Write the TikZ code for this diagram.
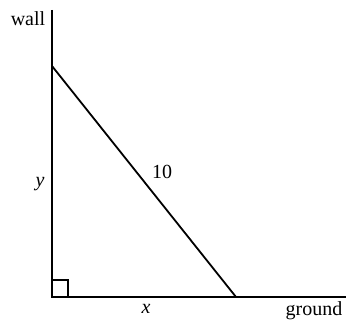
\documentclass[tikz,border=0pt]{standalone}
\usepackage{fontspec}
\setmainfont{Liberation Serif}
\begin{document}
\begin{tikzpicture}[x=1pt,y=-1pt,
  edge/.style={line width=1.8pt},
  lbl/.style={font=\fontsize{20}{23}\selectfont, inner sep=0pt}]
\useasboundingbox (0,0) rectangle (346,320);
\coordinate (walltop) at (52,10);
\coordinate (origin) at (52,297);
\coordinate (groundend) at (346,297);
\coordinate (top) at (52,66);
\coordinate (foot) at (236,297);
\draw[edge] (walltop) -- (origin) -- (groundend);
\draw[edge] (top) -- (foot);
\draw[line width=1.2pt] (52,280) -- (68,280) -- (68,297);
\node[lbl] (wall) at (28,19) {wall};
\node[lbl] (ground) at (314,311) {ground};
\node[lbl] (xl) at (146,309) {\textit{x}};
\node[lbl] (yl) at (40,184) {\textit{y}};
\node[lbl] (ten) at (162,172) {10};
\end{tikzpicture}
\end{document}
